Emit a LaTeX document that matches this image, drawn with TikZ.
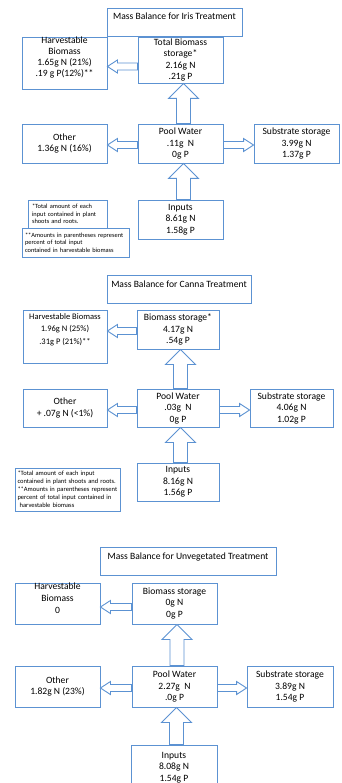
\documentclass[tikz,border=0pt]{standalone}
\usepackage{fontspec}
\setmainfont{Carlito}
\usepackage{xcolor}
\usepackage{tikz}
\usetikzlibrary{calc}
\definecolor{boxblue}{RGB}{92,146,210}

\tikzset{
  box/.style={draw=boxblue, line width=0.9pt, fill=white, align=center, inner sep=0pt,
    font=\fontsize{9.6}{11.5}\selectfont},
  titlebox/.style={box, text height=12pt, text depth=16pt},
  harvtext/.style={align=center, inner sep=0pt, anchor=north},
  notebox/.style={box, align=left, inner xsep=4pt, inner ysep=0pt,
    font=\fontsize{6.4}{7.6}\selectfont},
  flow/.style={draw=boxblue, line width=0.9pt, fill=white, line join=miter}
}

% hollow block arrows between boxes
\newcommand{\flowup}[3]{%
  \draw[flow] let \p1=(#1.north), \p2=(#2.south) in
    (\x1+#3-7pt,\y1) -- (\x1+#3-7pt,\y2-15pt) -- (\x1+#3-15pt,\y2-15pt)
    -- (\x1+#3,\y2) -- (\x1+#3+15pt,\y2-15pt) -- (\x1+#3+7pt,\y2-15pt)
    -- (\x1+#3+7pt,\y1) -- cycle;}
\newcommand{\flowleft}[3]{%
  \draw[flow] let \p1=(#1.west), \p2=(#2.east) in
    (\x1,\y1-#3+3.5pt) -- (\x2+10pt,\y1-#3+3.5pt) -- (\x2+10pt,\y1-#3+6.5pt)
    -- (\x2,\y1-#3) -- (\x2+10pt,\y1-#3-6.5pt) -- (\x2+10pt,\y1-#3-3.5pt)
    -- (\x1,\y1-#3-3.5pt) -- cycle;}
\newcommand{\flowright}[3]{%
  \draw[flow] let \p1=(#1.east), \p2=(#2.west) in
    (\x1,\y1-#3+3.5pt) -- (\x2-10pt,\y1-#3+3.5pt) -- (\x2-10pt,\y1-#3+6.5pt)
    -- (\x2,\y1-#3) -- (\x2-10pt,\y1-#3-6.5pt) -- (\x2-10pt,\y1-#3-3.5pt)
    -- (\x1,\y1-#3-3.5pt) -- cycle;}

\begin{document}
\begin{tikzpicture}[x=1pt, y=-1pt]
  \fill[white] (0,0) rectangle (341,783);
  \useasboundingbox (0,0) rectangle (341,783);

  % Iris treatment
  \node[titlebox, minimum width=135pt] (ititle) at (174.5,22) {Mass Balance for Iris Treatment};
  \node[box, minimum width=85pt, minimum height=52pt] (iharv) at (64.5,63) {};
  \node[harvtext, font=\fontsize{9.6}{11}\selectfont] (iharvtext) at (iharv.north)
    {Harvestable\\Biomass\\1.65g N (21\%)\\.19 g P(12\%)**};
  \node[box, minimum width=85pt, minimum height=46pt] (ibio) at (180.5,60)
    {Total Biomass\\storage*\\2.16g N\\.21g P};
  \node[box, minimum width=85pt, minimum height=39pt] (iother) at (64.5,143.5)
    {Other\\1.36g N (16\%)};
  \node[box, minimum width=85pt, minimum height=39pt] (ipool) at (180.5,143.5)
    {Pool Water\\.11g\ \ N\\0g P};
  \node[box, minimum width=85pt, minimum height=39pt] (isub) at (296.5,143.5)
    {Substrate storage\\3.99g N\\1.37g P};
  \node[box, minimum width=85pt, minimum height=39pt] (iin) at (180.5,219.5)
    {Inputs\\8.61g N\\1.58g P};
  \node[notebox, text width=71pt, minimum height=28pt] (inote1) at (67.5,214)
    {*Total amount of each\\input contained in plant\\shoots and roots.};
  \node[notebox, inner xsep=3pt, text width=101pt, minimum height=29pt] (inote2) at (75.5,242.5)
    {**Amounts in parentheses represent\\percent of total input\\contained in harvestable biomass};
  \flowleft{ibio}{iharv}{6.5pt}
  \flowup{ipool}{ibio}{3pt}
  \flowleft{ipool}{iother}{1.5pt}
  \flowright{ipool}{isub}{1.5pt}
  \flowup{iin}{ipool}{3pt}

  % Canna treatment
  \node[titlebox, minimum width=144pt] (ctitle) at (179,289.5) {Mass Balance for Canna Treatment};
  \node[box, minimum width=84pt, minimum height=53pt] (charv) at (65,336.5) {};
  \node[harvtext, font=\fontsize{8.5}{12.5}\selectfont] (charvtext) at ([yshift=-3.5pt]charv.north)
    {Harvestable Biomass\\1.96g N (25\%)\\.31g P (21\%)**};
  \node[box, minimum width=82pt, minimum height=39pt] (cbio) at (178,329.5)
    {Biomass storage*\\4.17g N\\.54g P};
  \node[box, minimum width=84pt, minimum height=38pt] (cother) at (65,408)
    {Other\\+ .07g N (<1\%)};
  \node[box, minimum width=82pt, minimum height=38pt] (cpool) at (178,408)
    {Pool Water\\.03g\ \ N\\0g P};
  \node[box, minimum width=83pt, minimum height=38pt] (csub) at (291.5,408)
    {Substrate storage\\4.06g N\\1.02g P};
  \node[box, minimum width=82pt, minimum height=38pt] (cin) at (178,482)
    {Inputs\\8.16g N\\1.56g P};
  \node[notebox, font=\fontsize{6.5}{8}\selectfont, inner xsep=2.5pt, text width=100pt, minimum height=43pt] (cnote) at (67.5,489.5)
    {*Total amount of each input\\contained in plant shoots and roots.\\\mbox{**Amounts in parentheses represent}\\percent of total input contained in\\\ harvestable biomass};
  \flowleft{cbio}{charv}{1.5pt}
  \flowup{cpool}{cbio}{2.5pt}
  \flowleft{cpool}{cother}{2pt}
  \flowright{cpool}{csub}{2pt}
  \flowup{cin}{cpool}{2.5pt}

  % Unvegetated treatment
  \node[titlebox, minimum width=176pt] (utitle) at (188,561) {Mass Balance for Unvegetated Treatment};
  \node[box, minimum width=85pt, minimum height=41pt] (uharv) at (57.5,603.5) {};
  \node[harvtext, font=\fontsize{9.6}{12}\selectfont] (uharvtext) at (uharv.north)
    {Harvestable\\Biomass\\0};
  \node[box, minimum width=85pt, minimum height=41pt] (ubio) at (174.5,603.5)
    {Biomass storage\\0g N\\0g P};
  \node[box, minimum width=85pt, minimum height=41pt] (uother) at (57.5,686.5)
    {Other\\1.82g N (23\%)};
  \node[box, minimum width=85pt, minimum height=41pt] (upool) at (174.5,686.5)
    {Pool Water\\2.27g\ \ N\\.0g P};
  \node[box, minimum width=86pt, minimum height=41pt] (usub) at (290,686.5)
    {Substrate storage\\3.89g N\\1.54g P};
  \node[box, minimum width=86pt, minimum height=45pt] (uin) at (174,767.5)
    {Inputs\\8.08g N\\1.54g P};
  \flowleft{ubio}{uharv}{3.5pt}
  \flowup{upool}{ubio}{2.5pt}
  \flowleft{upool}{uother}{1.5pt}
  \flowright{upool}{usub}{1.5pt}
  \flowup{uin}{upool}{2.5pt}
\end{tikzpicture}
\end{document}
